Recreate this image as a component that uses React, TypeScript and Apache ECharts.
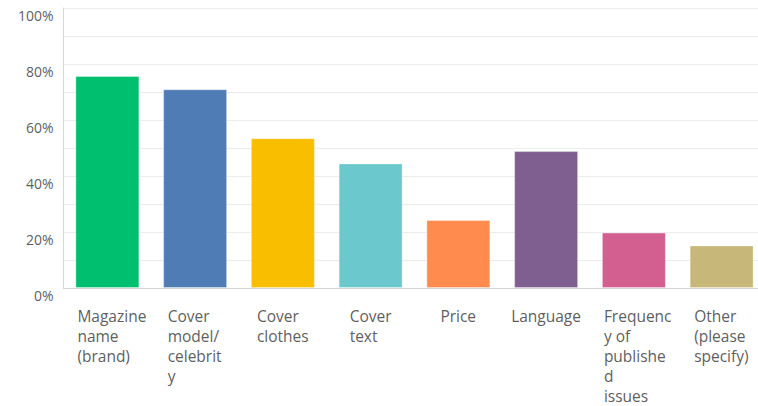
import React, { useEffect, useRef } from "react";
import * as echarts from "echarts";

const categories = [
  "Magazine name (brand)",
  "Cover model/celebrity",
  "Cover clothes",
  "Cover text",
  "Price",
  "Language",
  "Frequency of published issues",
  "Other (please specify)",
];

const categoryLabelLines = [
  ["Magazine", "name", "(brand)"],
  ["Cover", "model/", "celebrit", "y"],
  ["Cover", "clothes"],
  ["Cover", "text"],
  ["Price"],
  ["Language"],
  ["Frequenc", "y of", "publishe", "d", "issues"],
  ["Other", "(please", "specify)"],
];

const values = [75.7, 71.0, 53.5, 44.5, 24.3, 48.9, 19.8, 15.2];

const barColors = [
  "#00BF6F",
  "#507CB6",
  "#F9BE00",
  "#6BC8CD",
  "#FF8B4F",
  "#7F5F90",
  "#D25F90",
  "#C7B879",
];

const yTickStep = 10;
const yLabelStep = 20;

const X_FONT_FAMILY = "Open Sans";
const X_FONT_SIZE = 15.5;
const MAX_LABEL_BOX = 60;

export default function App() {
  const ref = useRef<HTMLDivElement>(null);

  useEffect(() => {
    if (!ref.current) return;
    const canvas = document.createElement("canvas");
    const ctx = canvas.getContext("2d")!;
    ctx.font = `${X_FONT_SIZE}px "${X_FONT_FAMILY}"`;
    const boxWidths = categoryLabelLines.map((lines) => {
      const w = Math.ceil(Math.max(...lines.map((l) => ctx.measureText(l).width)));
      return lines.length > 1 ? Math.min(w, MAX_LABEL_BOX) : w;
    });
    const rich: Record<string, any> = {};
    boxWidths.forEach((w, i) => {
      rich["t" + i] = {
        width: w,
        align: "left",
        fontFamily: X_FONT_FAMILY,
        fontSize: X_FONT_SIZE,
        lineHeight: 20,
        color: "#5f5f5f",
      };
    });

    const chart = echarts.init(ref.current, undefined, { renderer: "svg" });
    chart.setOption({
      animation: false,
      grid: { left: 63.5, top: 8, width: 702, bottom: 118, containLabel: false },
      xAxis: {
        type: "category",
        data: categories,
        axisLine: { lineStyle: { color: "#d3d3d3", width: 1 } },
        axisTick: { show: false },
        axisLabel: {
          interval: 0,
          margin: 18,
          align: "center",
          verticalAlign: "top",
          formatter: (_v: string, idx: number) =>
            categoryLabelLines[idx].map((l) => `{t${idx}|${l}}`).join("\n"),
          rich,
        },
      },
      yAxis: {
        type: "value",
        min: 0,
        max: 100,
        interval: yTickStep,
        axisLine: { show: true, lineStyle: { color: "#d8d8d8", width: 1 } },
        axisTick: { show: false },
        splitLine: { lineStyle: { color: "#ececec", width: 1 } },
        axisLabel: {
          margin: 10,
          fontFamily: "Open Sans",
          fontSize: 14,
          color: "#5f5f5f",
          verticalAlign: "top",
          lineHeight: 14,
          formatter: (v: number) => (v % yLabelStep === 0 ? `${v}%` : ""),
        },
      },
      series: [
        {
          type: "bar",
          barWidth: 64,
          data: values.map((v, i) => ({
            value: v,
            itemStyle: {
              color: barColors[i],
              borderColor: "rgba(255,255,255,0.35)",
              borderWidth: 1,
            },
          })),
        },
      ],
    });
    return () => chart.dispose();
  }, []);

  return (
    <div
      style={{
        position: "fixed",
        left: 0,
        top: 0,
        width: 758,
        height: 406,
        overflow: "hidden",
        background: "#fff",
      }}
    >
      <div ref={ref} style={{ width: 790, height: 406 }} />
    </div>
  );
}
